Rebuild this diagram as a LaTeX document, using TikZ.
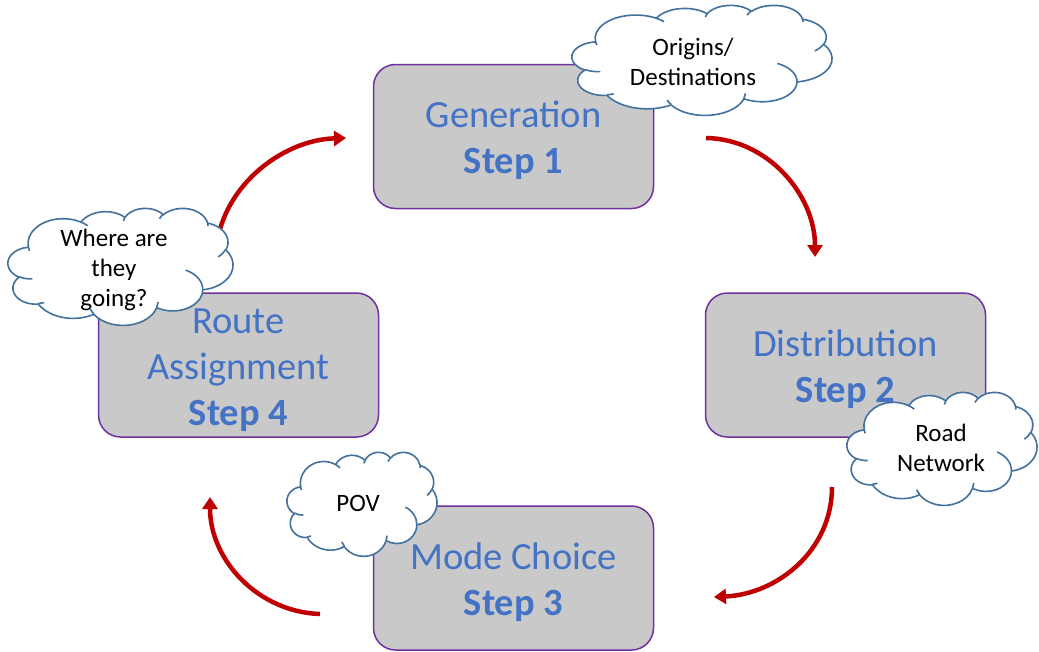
\documentclass[tikz,border=0pt]{standalone}
\usepackage{fontspec}
\setmainfont{Carlito}
\usetikzlibrary{arrows.meta}
\definecolor{boxfill}{HTML}{C9C9C9}
\definecolor{boxline}{HTML}{7030A0}
\definecolor{steptext}{HTML}{4472C4}
\definecolor{cloudline}{HTML}{41719C}
\definecolor{arrowred}{HTML}{C00000}

% Thought cloud drawn in a 100 x 100 frame: #1,#2 = left/top, #3,#4 = width/height
\newcommand\thoughtcloud[4]{%
  \pgfmathsetmacro\cloudxu{#3/100}%
  \pgfmathsetmacro\cloudyu{-#4/100}%
  \begin{scope}[shift={(#1,#2)}, x=\cloudxu pt, y=\cloudyu pt]
    \draw[cloudedge, fill=white] (9.028,33.264)
      arc[start angle=-187.745, end angle=-59.635, x radius=15.632, y radius=21.273]
      arc[start angle=-152.021, end angle=-45.451, x radius=12.345, y radius=16.822]
      arc[start angle=-153.494, end angle=-37.321, x radius=10.104, y radius=13.762]
      arc[start angle=-139.71,  end angle=-10.211, x radius=11.243, y radius=15.266]
      arc[start angle=-74.767,  end angle=23.213,  x radius=12.345, y radius=16.836]
      arc[start angle=-37.521,  end angle=81.862,  x radius=15.683, y radius=21.343]
      arc[start angle=0.460,    end angle=121.978, x radius=13.391, y radius=18.211]
      arc[start angle=16.845,   end angle=146.228, x radius=15.630, y radius=21.331]
      arc[start angle=58.984,   end angle=150.171, x radius=17.870, y radius=24.405]
      arc[start angle=83.306,   end angle=223.11,  x radius=10.093, y radius=13.699]
      arc[start angle=120.354,  end angle=264.113, x radius=10.058, y radius=13.762]
      -- cycle;
    % small inner folds between the puffs
    \draw[cloudedge] (10.863,60.595) arc[start angle=85.547,   end angle=120.354, x radius=10.058, y radius=13.762];
    \draw[cloudedge] (16.037,80.785) arc[start angle=68.23,    end angle=83.306,  x radius=10.093, y radius=13.699];
    \draw[cloudedge] (38.144,90.486) arc[start angle=146.228,  end angle=158.473, x radius=15.630, y radius=21.331];
    \draw[cloudedge] (66.729,80.442) arc[start angle=4.738,    end angle=16.845,  x radius=15.630, y radius=21.331];
    \draw[cloudedge] (79.002,53.134) arc[start angle=-64.03,   end angle=0.460,   x radius=13.391, y radius=18.211];
    \draw[cloudedge] (96.755,35.542) arc[start angle=23.213,   end angle=49.65,   x radius=12.345, y radius=16.836];
    \draw[cloudedge] (88.713,12.560) arc[start angle=-10.211,  end angle=0.821,   x radius=11.243, y radius=15.266];
    \draw[cloudedge] (67.310,9.148)  arc[start angle=-156.281, end angle=-139.71, x radius=11.243, y radius=15.266];
    \draw[cloudedge] (51.252,10.926) arc[start angle=-167.726, end angle=-153.494,x radius=10.104, y radius=13.762];
    \draw[cloudedge] (32.407,12.019) arc[start angle=-59.635,  end angle=-45.738, x radius=15.632, y radius=21.273];
    \draw[cloudedge] (9.553,36.549)  arc[start angle=163.193,  end angle=172.253, x radius=15.632, y radius=21.273];
  \end{scope}}

\begin{document}
\begin{tikzpicture}[x=1pt,y=-1pt,
  stepbox/.style={draw=boxline, line width=1.5pt, fill=boxfill, rounded corners=22pt,
    minimum width=280pt, minimum height=144pt, inner sep=0pt},
  steplabel/.style={inner sep=0pt, text=steptext, align=center,
    font=\fontsize{38.5}{46}\selectfont},
  cloudedge/.style={draw=cloudline, line width=1.6pt, line join=round},
  notetext/.style={inner sep=0pt, align=center, font=\fontsize{25}{30}\selectfont},
  cyc/.style={draw=arrowred, line width=4.5pt, -{Triangle[length=12pt,width=15pt]}}]

\useasboundingbox (0,0) rectangle (1039,651);

% the four model steps
\node[stepbox] (gen)   at (513.5,136.5) {};
\node[stepbox] (dist)  at (845.5,365)   {};
\node[stepbox] (mode)  at (513.5,578)   {};
\node[stepbox] (route) at (238.5,365)   {};
\node[steplabel] (gen-t)   at ([yshift=-4pt]gen.center)   {Generation\\\textbf{Step 1}};
\node[steplabel] (dist-t)  at ([yshift=-4pt]dist.center)  {Distribution\\\textbf{Step 2}};
\node[steplabel] (mode-t)  at ([yshift=-4pt]mode.center)  {Mode Choice\\\textbf{Step 3}};
\node[steplabel] (route-t) at ([yshift=-5pt]route.center) {Route\\Assignment\\\textbf{Step 4}};

% ends of the cycle arrows
\coordinate (a1s) at (706,138);
\coordinate (a1e) at (815,257);
\coordinate (a2s) at (832,487);
\coordinate (a2e) at (714,597);
\coordinate (a3s) at (320,614);
\coordinate (a3e) at (210,497);
\coordinate (a4s) at (216,255);
\coordinate (a4e) at (346,138);

\draw[cyc] (a1s) .. controls (768,139) and (815,195) .. (a1e);
\draw[cyc] (a2s) .. controls (832,550) and (778,594) .. (a2e);
\draw[cyc] (a3s) .. controls (258,612) and (210,560) .. (a3e);
\draw[cyc] (a4s) .. controls (218,190) and (280,140) .. (a4e);

% thought clouds with their notes
\thoughtcloud{572}{5}{260}{110}
\thoughtcloud{8}{208}{225}{117}
\thoughtcloud{847}{392}{190}{113}
\thoughtcloud{287}{452}{150}{104}
\node[notetext] (od-t)    at (693,62)  {Origins/\\Destinations};
\node[notetext] (where-t) at (114,270) {Where are\\they\\going?};
\node[notetext] (road-t)  at (941,448) {Road\\Network};
\node[notetext] (pov-t)   at (358,503) {POV};

\end{tikzpicture}
\end{document}
